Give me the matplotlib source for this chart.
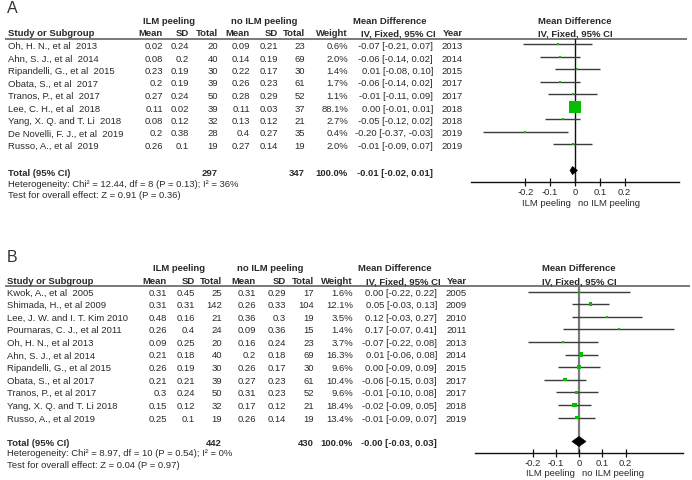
import matplotlib
matplotlib.use("Agg")
import matplotlib.pyplot as plt
import numpy as np

plt.rcParams['font.family'] = ['Liberation Sans', 'DejaVu Sans']

# ---------------- Panel A data ----------------
a_studies = ["Oh, H. N., et al  2013", "Ahn, S. J., et al  2014", "Ripandelli, G., et al  2015",
             "Obata, S., et al  2017", "Tranos, P., et al  2017", "Lee, C. H., et al  2018",
             "Yang, X. Q. and T. Li  2018", "De Novelli, F. J., et al  2019", "Russo, A., et al  2019"]
a_e_mean = [0.02, 0.08, 0.23, 0.2, 0.27, 0.11, 0.08, 0.2, 0.26]
a_e_sd = [0.24, 0.2, 0.19, 0.19, 0.24, 0.02, 0.12, 0.38, 0.1]
a_e_n = [20, 40, 30, 39, 50, 39, 32, 28, 19]
a_c_mean = [0.09, 0.14, 0.22, 0.26, 0.28, 0.11, 0.13, 0.4, 0.27]
a_c_sd = [0.21, 0.19, 0.17, 0.23, 0.29, 0.03, 0.12, 0.27, 0.14]
a_c_n = [23, 69, 30, 61, 52, 37, 21, 35, 19]
a_weight = [0.6, 2.0, 1.4, 1.7, 1.1, 88.1, 2.7, 0.4, 2.0]
a_md = [-0.07, -0.06, 0.01, -0.06, -0.01, 0.00, -0.05, -0.20, -0.01]
a_lo = [-0.21, -0.14, -0.08, -0.14, -0.11, -0.01, -0.12, -0.37, -0.09]
a_hi = [0.07, 0.02, 0.10, 0.02, 0.09, 0.01, 0.02, -0.03, 0.07]
a_year = [2013, 2014, 2015, 2017, 2017, 2018, 2018, 2019, 2019]
a_total_n = [297, 347]
a_total_md = [-0.01, -0.02, 0.01]
a_het = "Heterogeneity: Chi² = 12.44, df = 8 (P = 0.13); I² = 36%"
a_test = "Test for overall effect: Z = 0.91 (P = 0.36)"

# ---------------- Panel B data ----------------
b_studies = ["Kwok, A., et al  2005", "Shimada, H., et al 2009", "Lee, J. W. and I. T. Kim 2010",
             "Pournaras, C. J., et al 2011", "Oh, H. N., et al 2013", "Ahn, S. J., et al 2014",
             "Ripandelli, G., et al 2015", "Obata, S., et al 2017", "Tranos, P., et al 2017",
             "Yang, X. Q. and T. Li 2018", "Russo, A., et al 2019"]
b_e_mean = [0.31, 0.31, 0.48, 0.26, 0.09, 0.21, 0.26, 0.21, 0.3, 0.15, 0.25]
b_e_sd = [0.45, 0.31, 0.16, 0.4, 0.25, 0.18, 0.19, 0.21, 0.24, 0.12, 0.1]
b_e_n = [25, 142, 21, 24, 20, 40, 30, 39, 50, 32, 19]
b_c_mean = [0.31, 0.26, 0.36, 0.09, 0.16, 0.2, 0.26, 0.27, 0.31, 0.17, 0.26]
b_c_sd = [0.29, 0.33, 0.3, 0.36, 0.24, 0.18, 0.17, 0.23, 0.23, 0.12, 0.14]
b_c_n = [17, 104, 19, 15, 23, 69, 30, 61, 52, 21, 19]
b_weight = [1.6, 12.1, 3.5, 1.4, 3.7, 16.3, 9.6, 10.4, 9.6, 18.4, 13.4]
b_md = [0.00, 0.05, 0.12, 0.17, -0.07, 0.01, 0.00, -0.06, -0.01, -0.02, -0.01]
b_lo = [-0.22, -0.03, -0.03, -0.07, -0.22, -0.06, -0.09, -0.15, -0.10, -0.09, -0.09]
b_hi = [0.22, 0.13, 0.27, 0.41, 0.08, 0.08, 0.09, 0.03, 0.08, 0.05, 0.07]
b_year = [2005, 2009, 2010, 2011, 2013, 2014, 2015, 2017, 2017, 2018, 2019]
b_total_n = [442, 430]
b_total_md = [-0.0, -0.03, 0.03]
b_het = "Heterogeneity: Chi² = 8.97, df = 10 (P = 0.54); I² = 0%"
b_test = "Test for overall effect: Z = 0.04 (P = 0.97)"

tick_vals = [-0.2, -0.1, 0, 0.1, 0.2]
tick_labels = ["-0.2", "-0.1", "0", "0.1", "0.2"]

W, H = 692, 480
fig = plt.figure(figsize=(W / 100, H / 100), dpi=100)
bg = fig.add_axes([0, 0, 1, 1])
bg.set_xlim(0, W)
bg.set_ylim(H, 0)
bg.axis('off')

TC = '#2a2a2a'
FS = 6.8


def fmt(v):
    return '%g' % v


def ci_str(m, l, h):
    return "%.2f [%.2f, %.2f]" % (m, l, h)


def draw_panel(lab, studies, e_mean, e_sd, e_n, c_mean, c_sd, c_n, weight, md, lo, hi, year,
               total_n, total_md, het, test, L):
    cols = L['cols']
    bg.text(L['lab_x'], L['lab_y'], lab, fontsize=11.5, color='#333333', va='center', ha='left')
    bold = dict(fontsize=FS, fontweight='bold', color=TC, va='center')
    bg.text(L['grp_e'], L['h1'], "ILM peeling", ha='center', **bold)
    bg.text(L['grp_c'], L['h1'], "no ILM peeling", ha='center', **bold)
    bg.text(L['md_h1'], L['h1'], "Mean Difference", ha='center', **bold)
    bg.text(L['md_h2'], L['h2'], "IV, Fixed, 95% CI", ha='center', **bold)
    bg.text(L['zero_px'], L['h1'], "Mean Difference", ha='center', **bold)
    bg.text(L['zero_px'], L['h2'], "IV, Fixed, 95% CI", ha='center', **bold)
    bg.text(cols['study'], L['h2'], "Study or Subgroup", ha='left', **bold)
    for key, name in [('e_mean', 'Mean'), ('e_sd', 'SD'), ('e_n', 'Total'), ('c_mean', 'Mean'),
                      ('c_sd', 'SD'), ('c_n', 'Total'), ('weight', 'Weight'), ('year', 'Year')]:
        bg.text(cols[key], L['h2'], name, ha='right', **bold)
    bg.plot([5, L['line_right']], [L['line_y'], L['line_y']], color='#6e6e6e', lw=1.3,
            solid_capstyle='butt')

    n = len(studies)
    plain = dict(fontsize=FS, color=TC, va='center')
    for i in range(n):
        y = L['y0'] + L['dy'] * i
        bg.text(cols['study'], y, studies[i], ha='left', **plain)
        vals = [('e_mean', fmt(e_mean[i])), ('e_sd', fmt(e_sd[i])), ('e_n', str(e_n[i])),
                ('c_mean', fmt(c_mean[i])), ('c_sd', fmt(c_sd[i])), ('c_n', str(c_n[i])),
                ('weight', "%.1f%%" % weight[i]), ('ci', ci_str(md[i], lo[i], hi[i])),
                ('year', str(year[i]))]
        for key, s in vals:
            bg.text(cols[key], y, s, ha='right', **plain)
    ty = L['total_y']
    bg.text(cols['study'], ty, "Total (95% CI)", ha='left', **bold)
    bg.text(cols['e_n'], ty, str(total_n[0]), ha='right', **bold)
    bg.text(cols['c_n'], ty, str(total_n[1]), ha='right', **bold)
    bg.text(cols['weight'], ty, "%.1f%%" % sum(weight), ha='right', **bold)
    bg.text(cols['ci'], ty, ci_str(*total_md), ha='right', **bold)
    bg.text(cols['study'], L['het_y'], het, ha='left', **plain)
    bg.text(cols['study'], L['test_y'], test, ha='left', **plain)

    # forest axes
    xl, xr = L['fx']
    yt, yb = L['line_y'], L['axis_y']
    ax = fig.add_axes([xl / W, 1 - yb / H, (xr - xl) / W, (yb - yt) / H])
    ax.patch.set_alpha(0)
    zero = L['zero_px']
    ppu = L['ppu']
    ax.set_xlim((xl - zero) / ppu, (xr - zero) / ppu)
    to_idx = lambda p: (p - L['y0']) / L['dy']
    ax.set_ylim(to_idx(yb), to_idx(yt))
    for s in ['top', 'left', 'right']:
        ax.spines[s].set_visible(False)
    ax.spines['bottom'].set_color('#111111')
    ax.spines['bottom'].set_linewidth(1.0)
    ax.set_yticks([])
    ax.set_xticks(tick_vals)
    ax.set_xticklabels(tick_labels)
    ax.tick_params(axis='x', direction='inout', length=6, width=0.9, labelsize=FS,
                   colors='#111111', labelcolor=TC, pad=1)
    ax.axvline(0, color=L['zero_color'], lw=L['zero_lw'], zorder=1)
    off = L['mark_off'] / L['dy']
    idx = np.arange(n) - off
    ax.hlines(idx, lo, hi, color='#3c3c3c', lw=1.0, zorder=2)
    side_px = np.maximum(L['sq_max'] * np.sqrt(np.array(weight) / max(weight)), 2.0)
    ax.scatter(md, idx, s=(side_px * 0.72) ** 2, marker='s', color='#00c000',
               linewidths=0, zorder=3)
    ti = to_idx(ty) - off
    est, dlo, dhi = total_md
    hh = L['dia_h'] / L['dy']
    ax.fill([dlo, est, dhi, est], [ti, ti - hh, ti, ti + hh], color='black', lw=0.5, zorder=4)
    bg.text(zero - 4, L['dir_y'], "ILM peeling", ha='right', **plain)
    bg.text(zero + 3, L['dir_y'], "no ILM peeling", ha='left', **plain)


LA = dict(lab_x=7, lab_y=8.5, h1=22, h2=34, line_y=39, line_right=687,
          y0=46.5, dy=12.5, total_y=173, het_y=184.5, test_y=195.5, axis_y=182, dir_y=203,
          grp_e=169, grp_c=264, md_h1=390, md_h2=398, zero_px=575, ppu=248, fx=(471, 679),
          zero_color='#111111', zero_lw=1.0, sq_max=12, dia_h=4, mark_off=2.5,
          cols=dict(study=8, e_mean=163, e_sd=189, e_n=218, c_mean=250, c_sd=278, c_n=305,
                    weight=348, ci=433, year=463))
LB = dict(lab_x=7, lab_y=257, h1=268.5, h2=281.5, line_y=286, line_right=690,
          y0=293, dy=12.6, total_y=443, het_y=454, test_y=465, axis_y=453, dir_y=473.5,
          grp_e=179, grp_c=270, md_h1=395, md_h2=403, zero_px=579, ppu=232.5, fx=(475, 683),
          zero_color='#7a7a7a', zero_lw=1.6, sq_max=4.5, dia_h=5, mark_off=1.5,
          cols=dict(study=7, e_mean=167, e_sd=195, e_n=222, c_mean=256, c_sd=286, c_n=314,
                    weight=353, ci=437, year=467))

draw_panel("A", a_studies, a_e_mean, a_e_sd, a_e_n, a_c_mean, a_c_sd, a_c_n, a_weight,
           a_md, a_lo, a_hi, a_year, a_total_n, a_total_md, a_het, a_test, LA)
draw_panel("B", b_studies, b_e_mean, b_e_sd, b_e_n, b_c_mean, b_c_sd, b_c_n, b_weight,
           b_md, b_lo, b_hi, b_year, b_total_n, b_total_md, b_het, b_test, LB)

fig.savefig("out.png", dpi=100, facecolor='white')
